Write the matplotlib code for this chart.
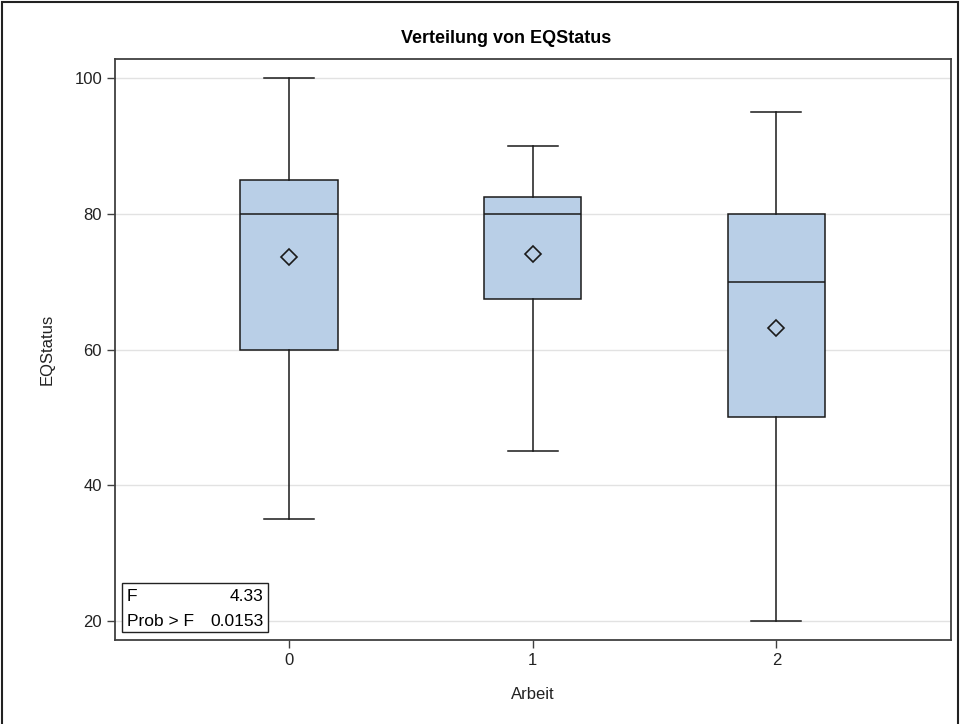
import matplotlib.pyplot as plt
from matplotlib.patches import Rectangle

plt.rcParams["font.family"] = ["Liberation Sans", "DejaVu Sans"]

# Daten
groups = ["0", "1", "2"]
whisker_low = [35, 45, 20]
q1 = [60, 67.5, 50]
median = [80, 80, 70]
q3 = [85, 82.5, 80]
whisker_high = [100, 90, 95]
mean = [73.7, 74.0, 63.1]

f_value = "4.33"
prob_f = "0.0153"

stats = []
for i in range(len(groups)):
    stats.append({
        "whislo": whisker_low[i],
        "q1": q1[i],
        "med": median[i],
        "q3": q3[i],
        "whishi": whisker_high[i],
        "mean": mean[i],
        "fliers": [],
        "label": groups[i],
    })

fig = plt.figure(figsize=(9.6, 7.24), dpi=100)
ax = fig.add_axes([0.1193, 0.116, 0.871, 0.8025])

line_color = "#1a1a1a"

ax.bxp(
    stats,
    positions=range(len(groups)),
    widths=0.4,
    patch_artist=True,
    showmeans=True,
    boxprops=dict(facecolor="#B9CFE7", edgecolor=line_color, linewidth=1.1),
    medianprops=dict(color=line_color, linewidth=1.1),
    whiskerprops=dict(color=line_color, linewidth=1.1),
    capprops=dict(color=line_color, linewidth=1.1),
    capwidths=0.205,
    meanprops=dict(marker="D", markerfacecolor="none", markeredgecolor=line_color,
                   markersize=8, markeredgewidth=1.2),
    zorder=3,
)

ax.set_xlim(-0.715, 2.715)
ax.set_ylim(17.2, 102.8)
ax.set_yticks([20, 40, 60, 80, 100])
ax.yaxis.grid(True, color="#e2e2e2", linewidth=1)
ax.set_axisbelow(True)

for spine in ax.spines.values():
    spine.set_color("#404040")
    spine.set_linewidth(1.3)

ax.tick_params(direction="out", length=6, width=1, color="#404040",
               labelsize=12, labelcolor="#222222", pad=3)

ax.set_xlabel("Arbeit", fontsize=12, color="#222222", labelpad=14)
ax.set_ylabel("EQStatus", fontsize=12, color="#222222", labelpad=14)
fig.text(401 / 960, 0.9475, "Verteilung von EQStatus", ha="left", va="center",
         fontsize=13, fontweight="bold")

# Statistik-Kasten
ax.add_patch(Rectangle((0.009, 0.0138), 0.1746, 0.0842, transform=ax.transAxes,
                       facecolor="white", edgecolor="#222222", linewidth=1, zorder=5))
ax.text(0.015, 0.0757, "F", transform=ax.transAxes, ha="left", va="center",
        fontsize=12.5, zorder=6)
ax.text(0.178, 0.0757, f_value, transform=ax.transAxes, ha="right", va="center",
        fontsize=12.5, zorder=6)
ax.text(0.015, 0.0327, "Prob > F", transform=ax.transAxes, ha="left", va="center",
        fontsize=12.5, zorder=6)
ax.text(0.178, 0.0327, prob_f, transform=ax.transAxes, ha="right", va="center",
        fontsize=12.5, zorder=6)

# Rahmen um die ganze Grafik
fig.patches.append(Rectangle((2 / 960, -0.01), 956 / 960, 1 - 2 / 724 + 0.01,
                             transform=fig.transFigure, fill=False,
                             edgecolor="#222222", linewidth=1.5))

plt.savefig("out.png", dpi=100)
